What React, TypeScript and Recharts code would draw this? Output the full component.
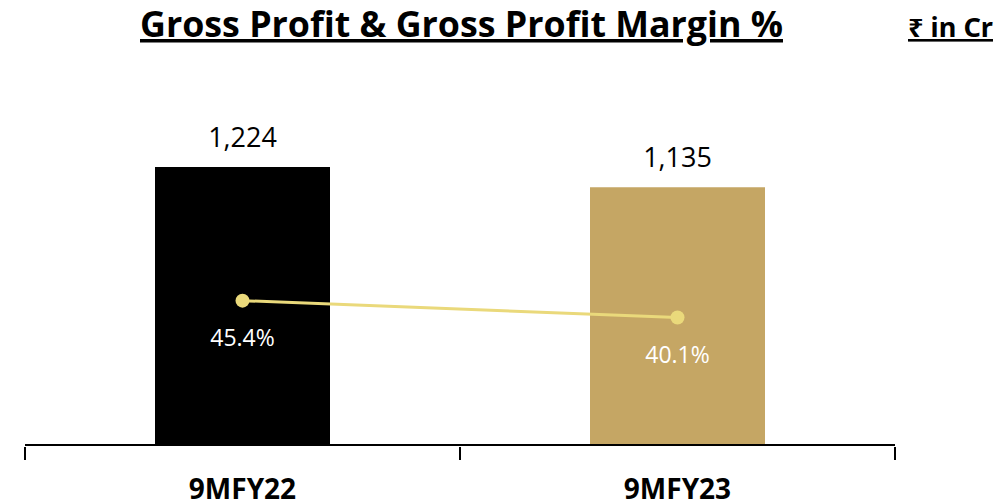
import React from 'react';
import { ComposedChart, Bar, Line, XAxis, YAxis, Cell, LabelList } from 'recharts';

const categories = ['9MFY22', '9MFY23'];
const grossProfit = [1224, 1135];
const grossMargin = [45.4, 40.1];
const barColors = ['#000000', '#C5A664'];
const titleText = 'Gross Profit & Gross Profit Margin %';
const unitText = '₹ in Cr';

const data = categories.map((name, i) => ({ name, gp: grossProfit[i], gpm: grossMargin[i] }));

const fmtNum = (v: any) => Number(v).toLocaleString('en-US');
const fmtPct = (v: any) => `${Number(v).toFixed(1)}%`;

const CategoryTick = (props: any) => {
  const { x, y, payload } = props;
  const half = payload && payload.offset ? payload.offset : 217.5;
  return (
    <g>
      <line x1={x - half} y1={y} x2={x - half} y2={y + 13} stroke="#000" strokeWidth={2} />
      <line x1={x + half} y1={y} x2={x + half} y2={y + 13} stroke="#000" strokeWidth={2} />
      <text
        x={x}
        y={y + 52}
        textAnchor="middle"
        fill="#000"
        fontSize={28}
        fontWeight={700}
        fontFamily="Open Sans"
      >
        {payload.value}
      </text>
    </g>
  );
};

export default function App() {
  return (
    <div style={{ position: 'absolute', left: 0, top: 0, width: 1002, height: 503, background: '#fff' }}>
      <ComposedChart
        width={1002}
        height={503}
        data={data}
        margin={{ top: 127, right: 107, bottom: 0, left: 25 }}
      >
        <XAxis
          dataKey="name"
          type="category"
          height={58}
          axisLine={{ stroke: '#000', strokeWidth: 2 }}
          tickLine={false}
          tickSize={0}
          tick={<CategoryTick />}
        />
        <YAxis yAxisId="gp" domain={[0, 1400]} hide />
        <YAxis yAxisId="pct" orientation="right" domain={[0, 100]} hide />
        <Bar yAxisId="gp" dataKey="gp" barSize={175} isAnimationActive={false}>
          {data.map((d, i) => (
            <Cell key={d.name} fill={barColors[i]} />
          ))}
          <LabelList
            dataKey="gp"
            position="top"
            offset={20}
            formatter={fmtNum}
            style={{ fill: '#000', fontSize: 27, fontFamily: 'Open Sans' }}
          />
        </Bar>
        <Line
          yAxisId="pct"
          dataKey="gpm"
          type="linear"
          stroke="#EAD97B"
          strokeWidth={3}
          dot={{ r: 7, fill: '#EAD97B', stroke: 'none' }}
          activeDot={false}
          isAnimationActive={false}
        >
          <LabelList
            dataKey="gpm"
            position="bottom"
            offset={29}
            formatter={fmtPct}
            style={{ fill: '#fff', fontSize: 23, fontFamily: 'Open Sans' }}
          />
        </Line>
      </ComposedChart>
      <svg
        width={1002}
        height={60}
        style={{ position: 'absolute', left: 0, top: 0, pointerEvents: 'none' }}
      >
        <text
          x={461.5}
          y={37}
          textAnchor="middle"
          fontSize={35}
          fontWeight={700}
          fontFamily="Open Sans"
          textLength={643}
          lengthAdjust="spacingAndGlyphs"
          textDecoration="underline"
          fill="#000"
        >
          {titleText}
        </text>
        <text
          x={908}
          y={37}
          fontSize={26}
          fontWeight={700}
          fontFamily="Noto Sans"
          textLength={85}
          lengthAdjust="spacingAndGlyphs"
          textDecoration="underline"
          fill="#000"
        >
          {unitText}
        </text>
      </svg>
    </div>
  );
}
